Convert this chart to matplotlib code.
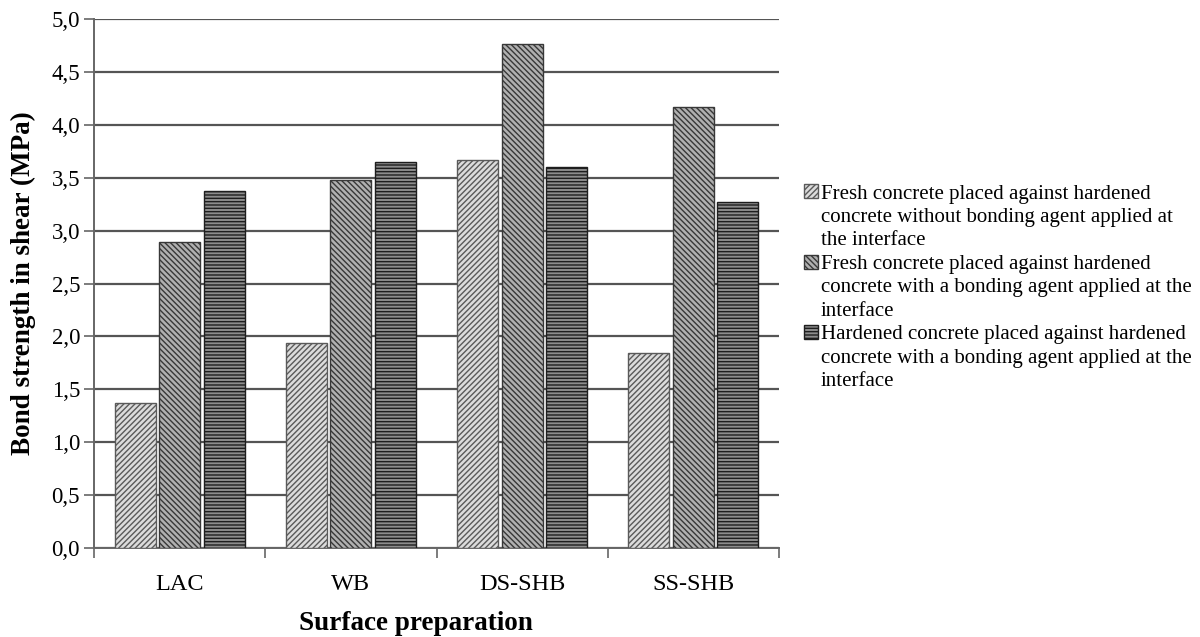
import numpy as np
import matplotlib
matplotlib.use("Agg")
import matplotlib.pyplot as plt
from matplotlib.patches import Rectangle
from matplotlib.ticker import FuncFormatter, FixedLocator

categories = ["LAC", "WB", "DS-SHB", "SS-SHB"]
fresh_no_agent = [1.37, 1.94, 3.67, 1.84]
fresh_with_agent = [2.89, 3.48, 4.76, 4.17]
hardened_with_agent = [3.37, 3.65, 3.60, 3.27]
series_labels = [
    ["Fresh concrete placed against hardened", "concrete without bonding agent applied at", "the interface"],
    ["Fresh concrete placed against hardened", "concrete with a bonding agent applied at the", "interface"],
    ["Hardened concrete placed against hardened", "concrete with a bonding agent applied at the", "interface"],
]

plt.rcParams['font.family'] = ['Liberation Serif', 'DejaVu Serif']
plt.rcParams['hatch.linewidth'] = 1.0

fig = plt.figure(figsize=(12, 6.37), dpi=100)
ax = fig.add_axes([94 / 1200, 1 - 548 / 637, (779 - 94) / 1200, (548 - 19) / 637])

x = np.arange(len(categories))
stride = 0.26
width = 0.24
styles = [
    dict(facecolor="#dcdcdc", edgecolor="#5a5a5a", hatch="//////"),
    dict(facecolor="#b0b0b0", edgecolor="#383838", hatch="\\\\\\\\\\\\"),
    dict(facecolor="#8c8c8c", edgecolor="#1e1e1e", hatch="-----"),
]
handles = []
for i, (vals, st) in enumerate(zip([fresh_no_agent, fresh_with_agent, hardened_with_agent], styles)):
    b = ax.bar(x + (i - 1) * stride, vals, width, linewidth=1.0, zorder=3, **st)
    handles.append(b)

ax.set_xlim(-0.5, 3.5)
ax.set_ylim(0, 5.0)
ax.set_yticks(np.arange(0, 5.01, 0.5))
ax.yaxis.set_major_formatter(FuncFormatter(lambda v, p: f"{v:.1f}".replace(".", ",")))
ax.grid(axis="y", color="#555555", linewidth=1.6, zorder=0)
ax.set_axisbelow(True)

ax.set_xticks(x)
ax.set_xticklabels(categories)
ax.xaxis.set_minor_locator(FixedLocator([-0.5, 0.5, 1.5, 2.5, 3.5]))
ax.tick_params(axis="x", which="major", length=0, pad=19, labelsize=17.5)
ax.tick_params(axis="x", which="minor", length=7, width=1.2, color="#666666")
ax.tick_params(axis="y", length=7, width=1.2, color="#666666", labelsize=16.5, pad=3)

for s in ["top", "right"]:
    ax.spines[s].set_visible(False)
for s in ["left", "bottom"]:
    ax.spines[s].set_color("#666666")
    ax.spines[s].set_linewidth(1.4)

ax.set_ylabel("Bond strength in shear (MPa)", fontsize=19.5, fontweight="bold")
ax.yaxis.set_label_coords(-0.085, 0.5)
ax.set_xlabel("Surface preparation", fontsize=19.5, fontweight="bold")
ax.xaxis.set_label_coords(0.47, -0.119)

# legend: one patch per series, continuation lines get blank handles
blank = Rectangle((0, 0), 1, 1, visible=False)
leg_handles, leg_texts = [], []
for h, lines in zip(handles, series_labels):
    leg_handles += [h, blank, blank]
    leg_texts += lines

fig.legend(leg_handles, leg_texts, loc="upper left", bbox_to_anchor=(796 / 1200, 1 - 176 / 637),
           frameon=False, fontsize=15, handlelength=0.65, handleheight=0.65, handletextpad=0.15,
           labelspacing=0.2, borderaxespad=0)

fig.savefig("out.png", dpi=100)
